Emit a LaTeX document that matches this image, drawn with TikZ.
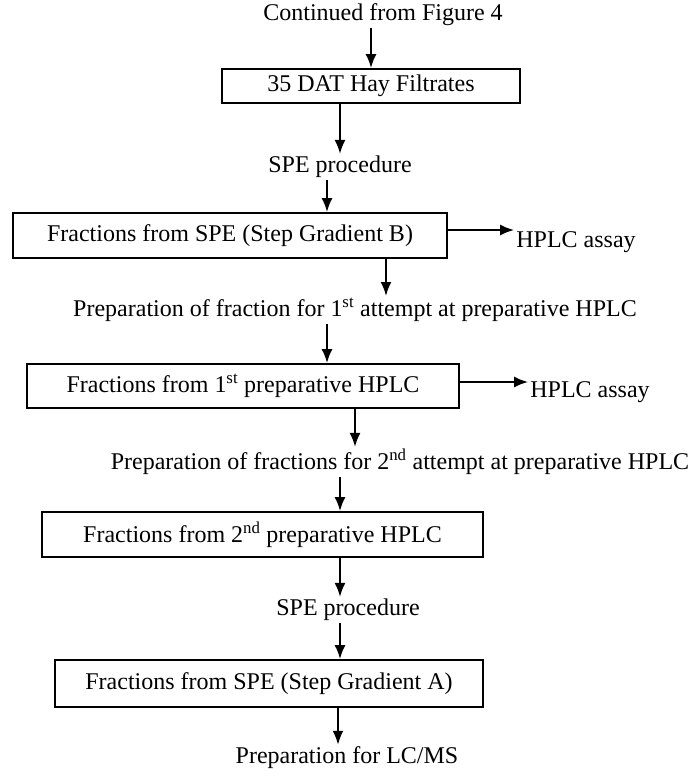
\documentclass[tikz,border=0pt]{standalone}
\usepackage{fontspec}
\setmainfont{Liberation Serif}
\usetikzlibrary{arrows.meta}
\tikzstyle{stage}=[draw, line width=1.8pt, inner sep=0pt]
\tikzstyle{note}=[inner sep=2pt]
\tikzstyle{flow}=[->, line width=2pt]

\begin{document}
\begin{tikzpicture}[>={Latex[length=14pt,width=11pt]},x=1pt,y=-1pt,
    font=\fontsize{24}{28}\selectfont]
    \useasboundingbox (0,0) rectangle (698,777);

    % Stages
    \node[stage, minimum width=298, minimum height=34] (hay) at (371,86) {35 DAT Hay Filtrates};
    \node[stage, minimum width=434, minimum height=45] (speb) at (230,235.5) {Fractions from SPE (Step Gradient B)};
    \node[stage, minimum width=432, minimum height=44] (prepa) at (243,386) {Fractions from 1\textsuperscript{st} preparative HPLC};
    \node[stage, minimum width=441, minimum height=45] (prepb) at (262.5,534.5) {Fractions from 2\textsuperscript{nd} preparative HPLC};
    \node[stage, minimum width=428, minimum height=47] (spea) at (269,683.5) {Fractions from SPE (Step Gradient A)};

    % Steps in between
    \node[note] (cont) at (383,15) {Continued from Figure 4};
    \node[note] (spe1) at (340,167) {SPE procedure};
    \node[note] (fix1) at (355,310) {Preparation of fraction for 1\textsuperscript{st} attempt at preparative HPLC};
    \node[note] (fix2) at (400,462) {Preparation of fractions for 2\textsuperscript{nd} attempt at preparative HPLC};
    \node[note] (spe2) at (348,610) {SPE procedure};
    \node[note] (lcms) at (347,758) {Preparation for LC/MS};

    % Assays
    \node[note] (assay1) at (576,242) {HPLC assay};
    \node[note] (assay2) at (590,392) {HPLC assay};

    % Arrows
    \draw[flow] (hay.north |- cont.south) -- (hay.north);
    \draw[flow] (spe1.north |- hay.south) -- (spe1.north);
    \draw[flow] ([xshift=-13]spe1.south) -- ([xshift=-13]spe1.south |- speb.north);
    \draw[flow] ([yshift=5.5]speb.east) -- ([yshift=5.5]speb.east -| assay1.west);
    \draw[flow] ([xshift=31]fix1.north |- speb.south) -- ([xshift=31]fix1.north);
    \draw[flow] ([xshift=-28]fix1.south) -- ([xshift=-28]fix1.south |- prepa.north);
    \draw[flow] ([yshift=4]prepa.east) -- ([yshift=4]prepa.east -| assay2.west);
    \draw[flow] ([xshift=-45]fix2.north |- prepa.south) -- ([xshift=-45]fix2.north);
    \draw[flow] ([xshift=-60]fix2.south) -- ([xshift=-60]fix2.south |- prepb.north);
    \draw[flow] ([xshift=-8]spe2.north |- prepb.south) -- ([xshift=-8]spe2.north);
    \draw[flow] ([xshift=-8]spe2.south) -- ([xshift=-8]spe2.south |- spea.north);
    \draw[flow] ([xshift=-9]lcms.north |- spea.south) -- ([xshift=-9]lcms.north);

\end{tikzpicture}
\end{document}
